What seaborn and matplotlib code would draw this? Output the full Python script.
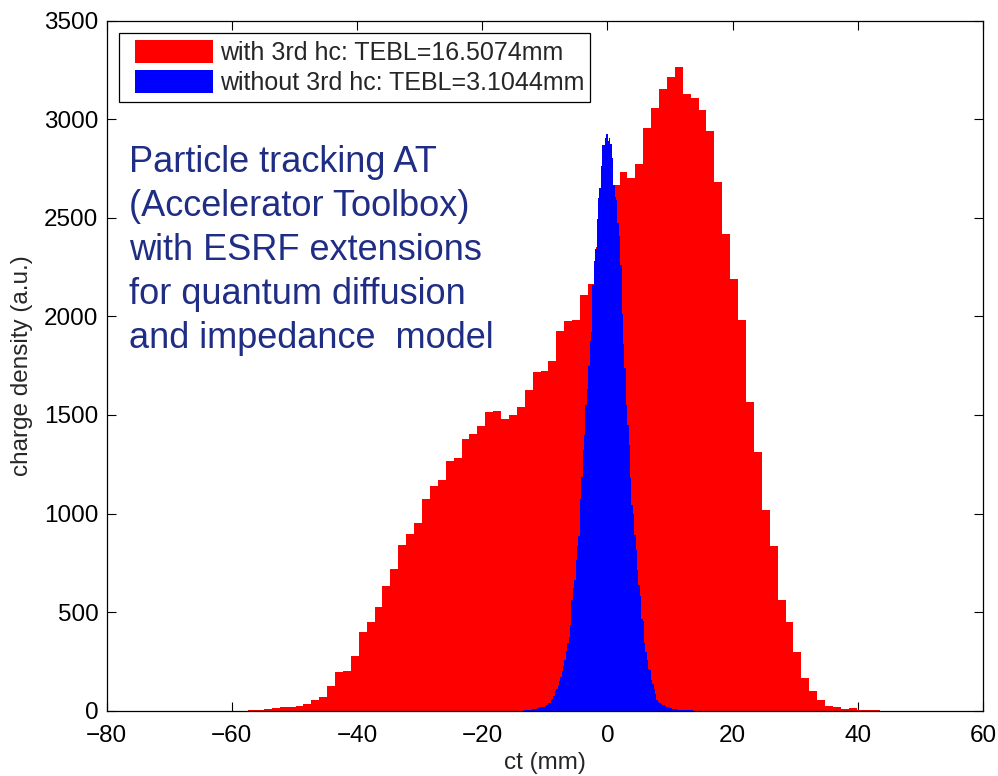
import numpy as np
import pandas as pd
import matplotlib
matplotlib.use("Agg")
import matplotlib.pyplot as plt
from matplotlib.patches import Rectangle, Patch
from matplotlib.legend_handler import HandlerPatch
import seaborn as sns

# ---- data ----
red_start = -57.4        # mm, left edge of first bin
red_width = 1.2625       # mm, bin width
red_counts = [4, 5, 8, 13, 18, 20, 22, 35, 56, 69,
              123, 196, 203, 279, 400, 451, 527, 634, 719, 842,
              896, 950, 1075, 1142, 1171, 1268, 1281, 1378, 1404, 1442,
              1517, 1522, 1480, 1501, 1543, 1628, 1720, 1725, 1775, 1928,
              1975, 1980, 2109, 2163, 2350, 2560, 2667, 2732, 2703, 2774,
              2955, 3057, 3154, 3213, 3265, 3130, 3106, 3047, 2939, 2684,
              2417, 2192, 1981, 1567, 1310, 1019, 837, 563, 450, 299,
              167, 101, 56, 25, 19, 9, 14, 5, 3, 4]

blue_start = -13.32
blue_width = 0.2226
blue_counts = [3, 3, 4, 4, 5, 6, 7, 8, 10, 12,
               14, 17, 17, 19, 20, 22, 27, 37, 37, 52,
               60, 73, 100, 112, 123, 150, 171, 203, 225, 257,
               301, 341, 372, 433, 561, 622, 664, 766, 833, 887,
               1075, 1185, 1323, 1399, 1552, 1631, 1746, 1876, 1923, 2160,
               2282, 2341, 2493, 2603, 2650, 2763, 2870, 2870, 2904, 2925,
               2892, 2904, 2875, 2802, 2667, 2608, 2593, 2475, 2410, 2259,
               2013, 1860, 1737, 1551, 1450, 1349, 1180, 1044, 997, 892,
               816, 715, 639, 580, 466, 453, 343, 297, 259, 213,
               204, 154, 135, 112, 85, 56, 44, 37, 34, 30,
               27, 22, 20, 17, 14, 12, 10, 8, 7, 7,
               6, 5, 5, 4, 4, 3, 3, 3, 2, 2, 2]

red_label = "with 3rd hc: TEBL=16.5074mm"
blue_label = "without 3rd hc: TEBL=3.1044mm"
note = ("Particle tracking AT\n(Accelerator Toolbox)\nwith ESRF extensions\n"
        "for quantum diffusion\nand impedance  model")

x_ticks = list(range(-80, 61, 20))
y_ticks = list(range(0, 3501, 500))

# ---- drawing ----
sns.set_theme(style="ticks")
plt.rcParams['font.family'] = ['Liberation Sans', 'DejaVu Sans']
plt.rcParams['axes.unicode_minus'] = True

W, H = 998, 776
fig = plt.figure(figsize=(W / 100, H / 100), dpi=100)
ax_l, ax_r, ax_t, ax_b = 106.7, 983.0, 20.7, 710.7
ax = fig.add_axes([ax_l / W, (H - ax_b) / H, (ax_r - ax_l) / W, (ax_b - ax_t) / H])

red_edges = (red_start + red_width * np.arange(len(red_counts) + 1)).tolist()
blue_edges = (blue_start + blue_width * np.arange(len(blue_counts) + 1)).tolist()
red_df = pd.DataFrame({"ct": [(a + b) / 2 for a, b in zip(red_edges[:-1], red_edges[1:])],
                       "count": [float(v) for v in red_counts]})
blue_df = pd.DataFrame({"ct": [(a + b) / 2 for a, b in zip(blue_edges[:-1], blue_edges[1:])],
                        "count": [float(v) for v in blue_counts]})

sns.histplot(data=red_df, x="ct", weights="count", bins=red_edges, element="step",
             fill=True, color="#ff0000", alpha=1, linewidth=0, ax=ax)
sns.histplot(data=blue_df, x="ct", weights="count", bins=blue_edges, element="step",
             fill=True, color="#0000ff", alpha=1, linewidth=0, ax=ax)

ax.set_xlim(-80, 60)
ax.set_ylim(0, 3500)
ax.set_xticks(x_ticks)
ax.set_yticks(y_ticks)
ax.tick_params(direction="in", length=6.5, width=0.8, top=True, right=True,
               labelsize=17.5, colors="black")
ax.tick_params(axis="x", pad=10)
ax.tick_params(axis="y", pad=6)
for s in ax.spines.values():
    s.set_visible(True)
    s.set_color("black")
    s.set_linewidth(0.9)

ax.set_xlabel("ct (mm)", fontsize=17.5, labelpad=4)
ax.set_ylabel("charge density (a.u.)", fontsize=17.5, labelpad=8)

OFF = 7.0  # points of white space before each legend swatch


def swatch(legend, orig_handle, xdescent, ydescent, width, height, fontsize):
    return Rectangle((-xdescent + OFF, -ydescent), width - OFF, height)


handles = [Patch(facecolor="#ff0000", edgecolor="none", label=red_label),
           Patch(facecolor="#0000ff", edgecolor="none", label=blue_label)]
leg = ax.legend(handles=handles, loc="upper left",
                bbox_to_anchor=((119.3 - ax_l) / (ax_r - ax_l), (ax_b - 33.3) / (ax_b - ax_t)),
                borderaxespad=0, fontsize=18, frameon=True, fancybox=False,
                edgecolor="black", handlelength=3.48, handleheight=1.05,
                handletextpad=0.28, borderpad=0.25, labelspacing=0.22,
                handler_map={Patch: HandlerPatch(patch_func=swatch)})
leg.get_frame().set_linewidth(0.9)
leg.get_frame().set_alpha(1)

ax.text(0.0257, 0.82, note, transform=ax.transAxes, fontsize=26,
        color="#1f2d84", va="top", ha="left", linespacing=1.33)

fig.savefig("out.png", dpi=100, facecolor="white")
